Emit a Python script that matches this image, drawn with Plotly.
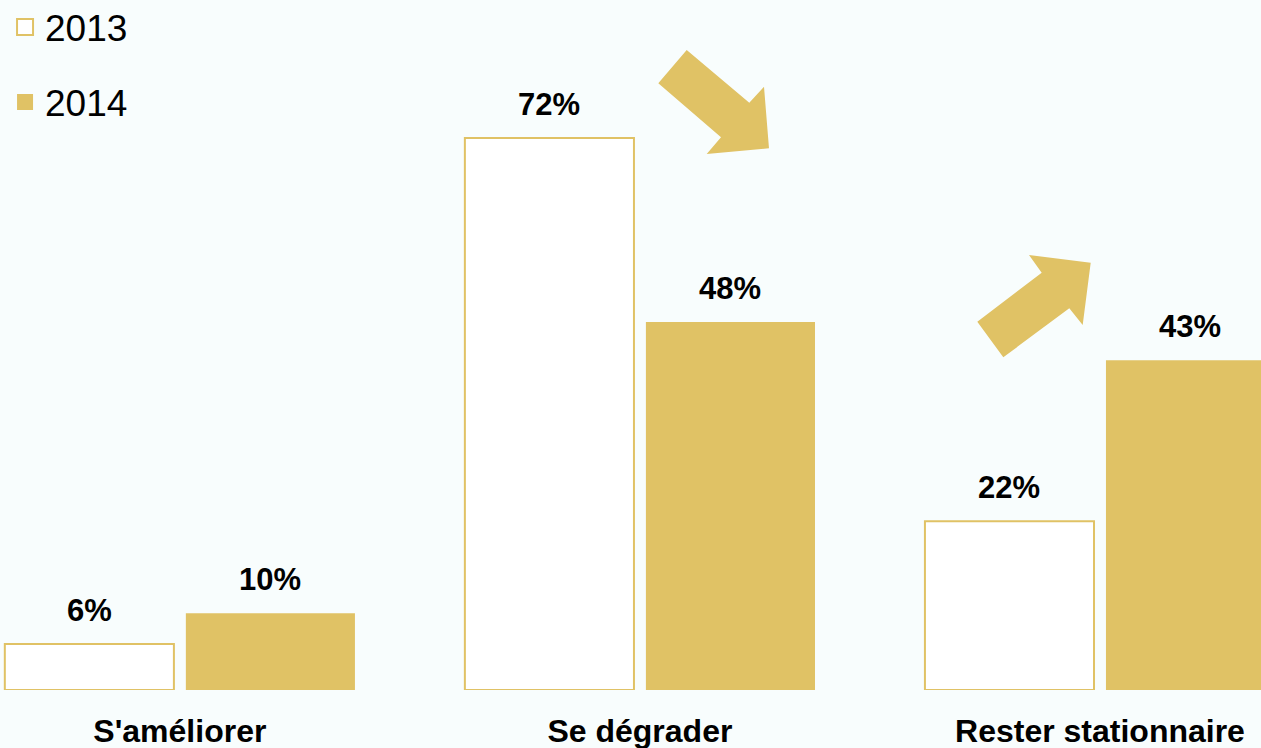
import plotly.graph_objects as go

categories = ["S'améliorer", "Se dégrader", "Rester stationnaire"]
series_names = ["2013", "2014"]
values_2013 = [6, 72, 22]
values_2014 = [10, 48, 43]

GOLD = "#E0C265"
BG = "#F8FDFD"
FONT = "Liberation Sans, Arial, sans-serif"
W, H = 1261, 748
PLOT_BOTTOM = 690  # pixel y of baseline

fig = go.Figure()
fig.add_trace(go.Bar(
    x=categories, y=values_2013, name=series_names[0], showlegend=False,
    marker=dict(color="#FFFFFF", line=dict(color=GOLD, width=2)),
))
fig.add_trace(go.Bar(
    x=categories, y=values_2014, name=series_names[1], showlegend=False,
    marker=dict(color=GOLD, line=dict(color=GOLD, width=0)),
))
# legend entries (square symbols, larger than default bar icons)
fig.add_trace(go.Scatter(
    x=[None], y=[None], mode="markers", name=series_names[0], legendgroup="a",
    marker=dict(symbol="square", size=16, color="#FFFFFF",
                line=dict(color=GOLD, width=2)),
))
fig.add_trace(go.Scatter(
    x=[None], y=[None], mode="markers", name=series_names[1], legendgroup="b",
    marker=dict(symbol="square", size=16, color=GOLD, line=dict(width=0)),
))

# value labels
for vals, shift in ((values_2013, -90.5), (values_2014, 90.5)):
    for c, v in zip(categories, vals):
        fig.add_annotation(
            x=c, y=v, xref="x", yref="y", text=f"<b>{v}%</b>", showarrow=False,
            xshift=shift, yshift=14, yanchor="bottom",
            font=dict(family=FONT, size=31, color="#000000"),
        )

# decorative block arrows (pixel coords -> paper)
def px_path(points):
    out = []
    for i, (px, py) in enumerate(points):
        xp = px / W
        yp = (PLOT_BOTTOM - py) / PLOT_BOTTOM
        out.append(("M" if i == 0 else "L") + f"{xp:.5f},{yp:.5f}")
    return " ".join(out) + " Z"

arrow_down = [(686.7, 50), (658.3, 83.3), (721, 137.3), (706.7, 154),
              (769, 148.3), (764, 86.7), (749.3, 102.7)]
arrow_up = [(1003.3, 357.3), (977.3, 321.7), (1041.7, 272.7), (1029, 255),
            (1090.7, 262.7), (1082.7, 325), (1069.3, 308.3)]
for pts in (arrow_down, arrow_up):
    fig.add_shape(type="path", xref="paper", yref="paper", path=px_path(pts),
                  fillcolor=GOLD, line=dict(width=0), layer="above")

fig.update_layout(
    width=W, height=H,
    margin=dict(l=0, r=0, t=0, b=H - PLOT_BOTTOM, autoexpand=False),
    paper_bgcolor=BG, plot_bgcolor=BG,
    barmode="group", bargap=0.213, bargroupgap=0.066,
    font=dict(family=FONT, color="#000000"),
    showlegend=True,
    legend=dict(x=0.004, y=1.0053, xanchor="left", yanchor="top",
                font=dict(family=FONT, size=37, color="#000000"),
                bgcolor="rgba(0,0,0,0)", traceorder="grouped",
                tracegroupgap=24, itemwidth=30),
    xaxis=dict(range=[-0.391, 2.35], showgrid=False, zeroline=False,
               showline=False, ticks="", ticklabelstandoff=19,
               automargin=False,
               tickfont=dict(family=FONT, size=32, color="#000000"),
               tickvals=categories,
               ticktext=[f"<b>{c}</b>" for c in categories]),
    yaxis=dict(range=[0, 90], visible=False, showgrid=False, zeroline=False,
               automargin=False),
)

fig.write_html("out.html",
               config={"displayModeBar": False},
               post_script="document.body.style.margin='0';"
                           "document.body.style.overflow='hidden';")
